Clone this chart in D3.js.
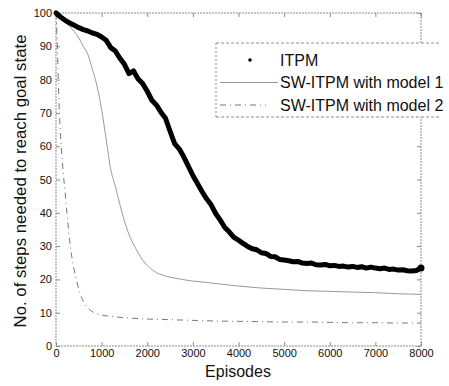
<!DOCTYPE html>
<html><head><meta charset="utf-8">
<script src="https://cdn.jsdelivr.net/npm/d3@7"></script>
<style>body{margin:0;background:#fff}svg{display:block}</style>
</head><body>
<script>
// ---- data ----
const itpmEpisodes = d3.range(0, 8001, 100);
const itpmSteps = [100,98.8,97.8,97.0,96.3,95.6,95.0,94.6,94.0,93.6,92.8,91.8,89.6,88.6,86.4,84.6,81.8,82.6,80.2,78.8,
  76.5,73.8,72.4,70.2,68.4,64.5,60.8,59.2,56.8,54.0,51.2,48.8,46.4,44.2,42.4,39.8,37.8,35.6,34.2,32.6,
  31.8,30.8,29.9,29.2,28.9,28.0,27.8,26.9,26.8,26.0,25.8,25.6,25.3,25.4,24.9,24.8,24.9,24.4,24.3,24.5,
  24.1,24.2,23.9,24.0,23.7,23.9,23.6,23.8,23.4,23.7,23.4,23.2,23.4,23.0,23.1,22.8,22.9,22.6,22.5,22.7,23.4];
const m1Episodes = [0,300,500,600,700,800,900,1000,1100,1200,1300,1400,1500,1600,1700,1800,1900,2000,2100,2200,2300,2400,2600,2800,3000,3300,3600,4000,4500,5000,5500,6000,6500,7000,7500,8000];
const m1Steps    = [100,96,92.5,90,87.5,83,78,71,62,53,48,42.5,37.5,33.5,30.5,28,25.8,24.2,23,22,21.5,21,20.4,19.9,19.5,19.1,18.6,18.0,17.4,17.0,16.6,16.4,16.2,16.0,15.7,15.5];
const m2Episodes = [0,25,50,75,100,150,200,250,300,350,400,450,500,600,700,800,900,1000,1200,1500,2000,2500,3000,3500,4000,4500,5000,5500,6000,6500,7000,7500,8000];
const m2Steps    = [100,92,80,70,63,53.5,46,38.5,31.5,26.5,22.8,19.8,17,13.3,11.3,10.3,9.7,9.3,8.9,8.5,8.1,7.9,7.7,7.5,7.4,7.3,7.2,7.2,7.1,7.0,7.0,6.9,6.9];
const xTicks = [0,1000,2000,3000,4000,5000,6000,7000,8000];
const yTicks = [0,10,20,30,40,50,60,70,80,90,100];
const legendLabels = ["ITPM","SW-ITPM with model 1","SW-ITPM with model 2"];
const xLabel = "Episodes";
const yLabel = "No. of steps needed to reach goal state";

const W = 449, H = 386;
const L = 56, R = 421, T = 13, B = 346;
const svg = d3.select("body").append("svg").attr("width", W).attr("height", H)
  .style("font-family", "'Liberation Sans', Arial, sans-serif");

const x = d3.scaleLinear().domain([0, 8000]).range([L, R]);
const y = d3.scaleLinear().domain([0, 100]).range([B, T]);

const frameCol = "#8c8c8c";
// frame
svg.append("rect").attr("x", L).attr("y", T).attr("width", R - L).attr("height", B - T)
  .attr("fill", "none").attr("stroke", frameCol).attr("stroke-width", 1).attr("stroke-dasharray", "2,1");

// axes (ticks inward)
svg.append("g").attr("transform", `translate(0,${B})`)
  .call(d3.axisBottom(x).tickValues(xTicks).tickSize(-4).tickPadding(3).tickFormat(d3.format("d")));
svg.append("g").attr("transform", `translate(${L},0)`)
  .call(d3.axisLeft(y).tickValues(yTicks).tickSize(-4).tickPadding(4).tickFormat(d3.format("d")));
svg.append("g").attr("transform", `translate(0,${T})`)
  .call(d3.axisTop(x).tickValues(xTicks).tickSize(-4).tickFormat(""));
svg.append("g").attr("transform", `translate(${R},0)`)
  .call(d3.axisRight(y).tickValues(yTicks).tickSize(-4).tickFormat(""));
svg.selectAll(".domain").remove();
svg.selectAll(".tick line").attr("stroke", frameCol);
svg.selectAll(".tick text").attr("fill", "#111").style("font-size", "11px")
  .style("font-family", "'Liberation Sans', Arial, sans-serif");

// lines
const line = d3.line().x(d => x(d[0])).y(d => y(d[1]));
const m2 = m2Episodes.map((e, i) => [e, m2Steps[i]]);
const m1 = m1Episodes.map((e, i) => [e, m1Steps[i]]);
const it = itpmEpisodes.map((e, i) => [e, itpmSteps[i]]);
svg.append("path").datum(m2).attr("d", line.curve(d3.curveMonotoneX)).attr("fill", "none")
  .attr("stroke", "#777").attr("stroke-width", 1).attr("stroke-dasharray", "6,4,1,4");
svg.append("path").datum(m1).attr("d", line.curve(d3.curveMonotoneX)).attr("fill", "none")
  .attr("stroke", "#999").attr("stroke-width", 1);
svg.append("path").datum(it).attr("d", line.curve(d3.curveLinear)).attr("fill", "none")
  .attr("stroke", "#000").attr("stroke-width", 5).attr("stroke-linejoin", "round").attr("stroke-linecap", "round");
svg.append("circle").attr("cx", x(8000)).attr("cy", y(itpmSteps[itpmSteps.length - 1])).attr("r", 3.5).attr("fill", "#000");

// axis labels
svg.append("text").attr("x", 238).attr("y", 377).attr("text-anchor", "middle")
  .style("font-size", "16px").attr("fill", "#111").text(xLabel);
svg.append("text").attr("transform", "translate(26,181) rotate(-90)").attr("text-anchor", "middle")
  .style("font-size", "16.8px").attr("fill", "#111").text(yLabel);

// legend
const lg = svg.append("g");
const lx0 = 216, lx1 = 441, ly0 = 43, ly1 = 117;
lg.append("rect").attr("x", lx0).attr("y", ly0).attr("width", lx1 - lx0).attr("height", ly1 - ly0).attr("fill", "#fff").attr("stroke", "none");
lg.append("line").attr("x1", lx0).attr("x2", lx1).attr("y1", ly0).attr("y2", ly0).attr("stroke", frameCol).attr("stroke-dasharray", "3,2");
lg.append("line").attr("x1", lx0).attr("x2", lx1).attr("y1", ly1).attr("y2", ly1).attr("stroke", frameCol).attr("stroke-dasharray", "3,2");
lg.append("line").attr("x1", lx0).attr("x2", lx0).attr("y1", ly0).attr("y2", ly1).attr("stroke", frameCol).attr("stroke-dasharray", "2,2");
const rowsY = [60, 82.5, 105];
lg.append("circle").attr("cx", 250).attr("cy", rowsY[0]).attr("r", 1.8).attr("fill", "#000");
lg.append("line").attr("x1", 220).attr("x2", 278).attr("y1", rowsY[1]).attr("y2", rowsY[1]).attr("stroke", "#999");
lg.append("line").attr("x1", 220).attr("x2", 266).attr("y1", rowsY[2]).attr("y2", rowsY[2]).attr("stroke", "#777").attr("stroke-dasharray", "6,4,1,4");
legendLabels.forEach((t, i) => {
  lg.append("text").attr("x", 280).attr("y", rowsY[i] + 5.5).style("font-size", "16px").attr("fill", "#111").text(t);
});
</script>
</body></html>
